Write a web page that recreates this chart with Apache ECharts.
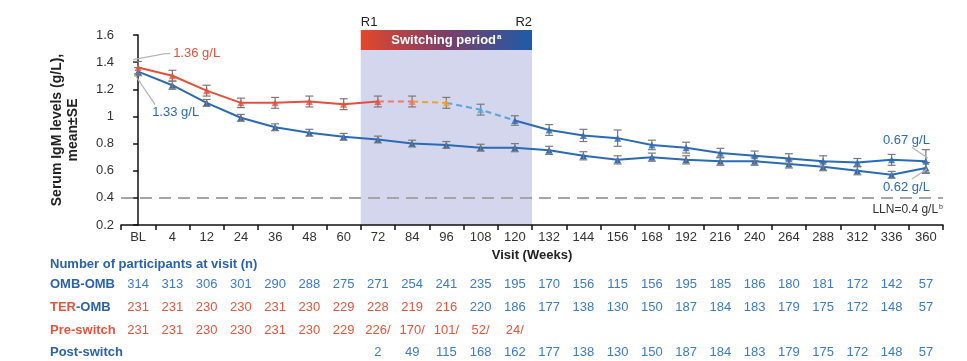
<!DOCTYPE html>
<html><head><meta charset="utf-8">
<script src="https://cdn.jsdelivr.net/npm/echarts@6/dist/echarts.min.js"></script>
<style>html,body{margin:0;padding:0;background:#fff}#c{width:967px;height:361px}</style>
</head><body><div id="c"></div>
<script>
const weeks = ['BL','4','12','24','36','48','60','72','84','96','108','120','132','144','156','168','192','216','240','264','288','312','336','360'];
const ombMean = [1.33,1.23,1.10,0.99,0.92,0.88,0.85,0.83,0.80,0.79,0.77,0.77,0.75,0.71,0.68,0.70,0.68,0.67,0.67,0.65,0.63,0.60,0.57,0.62];
const ombSE   = [0.03,0.03,0.025,0.025,0.025,0.025,0.025,0.025,0.025,0.025,0.025,0.03,0.03,0.03,0.03,0.03,0.03,0.03,0.03,0.03,0.03,0.03,0.025,0.04];
const terMean = [1.36,1.30,1.19,1.10,1.10,1.11,1.09,1.11,1.11,1.10,1.05,0.97,0.90,0.86,0.84,0.79,0.77,0.73,0.71,0.69,0.67,0.66,0.68,0.67];
const terSE   = [0.045,0.04,0.04,0.035,0.04,0.04,0.04,0.04,0.04,0.04,0.04,0.035,0.04,0.045,0.06,0.035,0.04,0.035,0.035,0.035,0.04,0.03,0.04,0.085];
const yTicks = {min:0.2, max:1.6, interval:0.2};
const lln = 0.4;
const switchStart = 6.5, switchEnd = 11.5; // category boundaries (between 60/72 and 120/132)
const nOmbOmb = ['314','313','306','301','290','288','275','271','254','241','235','195','170','156','115','156','195','185','186','180','181','172','142','57'];
const nTerOmb = ['231','231','230','230','231','230','229','228','219','216','220','186','177','138','130','150','187','184','183','179','175','172','148','57'];
const nPre    = ['231','231','230','230','231','230','229','226/','170/','101/','52/','24/','','','','','','','','','','','',''];
const nPost   = ['','','','','','','','2','49','115','168','162','177','138','130','150','187','184','183','179','175','172','148','57'];

const RED = '#e5503a', BLUE = '#2b6ab7', LBLUE = '#5aa5e0', ORANGE = '#f5a020', SALMON = '#ef7a66';
const NRED = '#e5553d', NBLUE = '#3c7bc7', LBL = '#2b62ad';
const FONT = 'Liberation Sans, Arial, sans-serif';

const chart = echarts.init(document.getElementById('c'));

function errSeries(mean, se) {
  return {
    type:'custom', xAxisIndex:0, yAxisIndex:0, z:4,
    data: mean.map((m,i)=>[i, m-se[i], m+se[i]]),
    renderItem: function(params, api){
      const lo = api.coord([api.value(0), api.value(1)]);
      const hi = api.coord([api.value(0), api.value(2)]);
      const w = 4;
      const st = {stroke:'#7a7a7a', lineWidth:1.2, fill:null};
      return {type:'group', children:[
        {type:'line', shape:{x1:lo[0],y1:lo[1],x2:hi[0],y2:hi[1]}, style:st},
        {type:'line', shape:{x1:lo[0]-w,y1:lo[1],x2:lo[0]+w,y2:lo[1]}, style:st},
        {type:'line', shape:{x1:hi[0]-w,y1:hi[1],x2:hi[0]+w,y2:hi[1]}, style:st}
      ]};
    }
  };
}
function seg(from, to, color, dashed) {
  return {
    type:'line', xAxisIndex:0, yAxisIndex:0, z:3, symbol:'none', silent:true,
    data: terMean.map((v,i)=> (i>=from && i<=to) ? v : '-'),
    lineStyle:{color:color, width:2, type: dashed ? [6,4] : 'solid'}
  };
}
const terColors = terMean.map((v,i)=> i<=7 ? RED : i===8 ? SALMON : i===9 ? ORANGE : i===10 ? LBLUE : BLUE);

const tableAxis = (arr, off, colorFn) => ({
  type:'category', gridIndex:0, position:'bottom', offset:off, data:weeks,
  axisLine:{show:false}, axisTick:{show:false}, splitLine:{show:false},
  axisLabel:{interval:0, margin:0, fontFamily:FONT, fontSize:13,
    formatter:(v,i)=> arr[i] ? '{' + colorFn(i) + '|' + arr[i] + '}' : '',
    rich:{r:{color:NRED, fontSize:13, fontFamily:FONT}, b:{color:NBLUE, fontSize:13, fontFamily:FONT}}}
});

const option = {
  animation:false,
  grid:{left:121, right:24, top:35, bottom:136, containLabel:false},
  xAxis:[
    {type:'category', data:weeks, boundaryGap:true,
     name:'Visit (Weeks)', nameLocation:'middle', nameGap:23,
     nameTextStyle:{fontFamily:FONT, fontSize:13, fontWeight:'bold', color:'#222'},
     axisLine:{lineStyle:{color:'#111', width:1.5}},
     axisTick:{show:true, length:5, lineStyle:{color:'#111', width:1.5}},
     axisLabel:{interval:0, margin:6, fontFamily:FONT, fontSize:13, color:'#333'}},
    {type:'value', min:-0.5, max:23.5, show:false},
    tableAxis(nOmbOmb, 53, ()=> 'b'),
    tableAxis(nTerOmb, 76, (i)=> i<=9 ? 'r' : 'b'),
    tableAxis(nPre, 99, ()=> 'r'),
    tableAxis(nPost, 121, ()=> 'b')
  ],
  yAxis:[{type:'value', min:yTicks.min, max:yTicks.max, interval:yTicks.interval,
    name:'Serum IgM levels (g/L),\nmean±SE', nameLocation:'middle', nameRotate:90, nameGap:40,
    nameTextStyle:{fontFamily:FONT, fontSize:14, fontWeight:'bold', color:'#222', lineHeight:16},
    axisLine:{show:true, lineStyle:{color:'#111', width:1.5}},
    axisTick:{show:true, length:5, lineStyle:{color:'#111', width:1.5}},
    splitLine:{show:false},
    axisLabel:{fontFamily:FONT, fontSize:13, color:'#333', margin:7}}],
  series:[
    {type:'custom', xAxisIndex:1, yAxisIndex:0, z:0, silent:true, clip:false,
     data:[[switchStart, switchEnd]],
     renderItem:function(params, api){
       const a = api.coord([api.value(0), yTicks.min]);
       const b = api.coord([api.value(1), yTicks.max]);
       const x1 = a[0], x2 = b[0], yb = a[1], yt = b[1];
       return {type:'group', children:[
         {type:'rect', shape:{x:x1, y:yt+15, width:x2-x1, height:yb-yt-15}, style:{fill:'#d3d6ec'}},
         {type:'rect', shape:{x:x1, y:yt-5, width:x2-x1, height:20},
          style:{fill:{type:'linear', x:0, y:0, x2:1, y2:0, colorStops:[
            {offset:0, color:'#e4472a'},{offset:0.5, color:'#7b3f6a'},{offset:1, color:'#1e5ba8'}]}}},
         {type:'text', x:(x1+x2)/2, y:yt+5, style:{text:'{m|Switching period}{s|a}', align:'center', verticalAlign:'middle',
           rich:{m:{fontFamily:FONT, fontSize:13, fontWeight:'bold', fill:'#fff', color:'#fff'},
                 s:{fontFamily:FONT, fontSize:8, fontWeight:'bold', fill:'#fff', color:'#fff', verticalAlign:'top', padding:[0,0,6,1]}}}},
         {type:'text', x:x1, y:yt-13, style:{text:'R1', fill:'#222', font:'13px '+FONT, align:'left', verticalAlign:'middle'}},
         {type:'text', x:x2, y:yt-13, style:{text:'R2', fill:'#222', font:'13px '+FONT, align:'right', verticalAlign:'middle'}}
       ]};
     }},
    {type:'line', xAxisIndex:0, yAxisIndex:0, data:[], z:1, silent:true,
     markLine:{silent:true, symbol:'none', label:{show:false},
       lineStyle:{color:'#a5a5a5', width:2, type:[12,7]}, data:[{yAxis:lln}]}},
    errSeries(ombMean, ombSE),
    errSeries(terMean, terSE),
    {type:'line', xAxisIndex:0, yAxisIndex:0, z:3, data:ombMean, symbol:'triangle', symbolSize:7,
     lineStyle:{color:BLUE, width:2}, itemStyle:{color:BLUE}},
    seg(0,7,RED,false),
    seg(7,8,SALMON,true),
    seg(8,9,ORANGE,true),
    seg(9,11,LBLUE,true),
    seg(11,23,BLUE,false),
    {type:'scatter', xAxisIndex:0, yAxisIndex:0, z:5, symbol:'triangle', symbolSize:7,
     data: terMean.map((v,i)=>({value:[i,v], itemStyle:{color:terColors[i]}}))}
  ]
};
chart.setOption(option);

// annotations and table labels, positioned from the axes
const px = (i,v)=> chart.convertToPixel({xAxisIndex:0, yAxisIndex:0}, [i,v]);
const pT0 = px(0, terMean[0]), pO0 = px(0, ombMean[0]);
const n = weeks.length-1;
const pTn = px(n, terMean[n]), pOn = px(n, ombMean[n]);
const pLLN = chart.convertToPixel({xAxisIndex:1, yAxisIndex:0}, [23.5, lln]);
const leader = {stroke:'#b5b5b5', lineWidth:1.2, fill:null};
const tf = (c, w)=> ({fill:c, font:(w||'normal')+' 13px '+FONT});
const graphic = [
  {type:'polyline', shape:{points:[[pT0[0]-5,pT0[1]-8],[pT0[0]+27,pT0[1]-14],[pT0[0]+32,pT0[1]-14]]}, style:leader, z:10},
  {type:'text', x:pT0[0]+35, y:pT0[1]-14, style:Object.assign(tf(RED),{text:'1.36 g/L', verticalAlign:'middle'}), z:10},
  {type:'line', shape:{x1:pO0[0]-4, y1:pO0[1]+2, x2:pO0[0]+17, y2:pO0[1]+33}, style:leader, z:10},
  {type:'text', x:pO0[0]+14, y:pO0[1]+41, style:Object.assign(tf(BLUE),{text:'1.33 g/L', verticalAlign:'middle'}), z:10},
  {type:'line', shape:{x1:pTn[0]-14, y1:pTn[1]-14, x2:pTn[0]+2, y2:pTn[1]-3}, style:leader, z:10},
  {type:'text', x:pTn[0]+4, y:pTn[1]-21, style:Object.assign(tf(BLUE),{text:'0.67 g/L', align:'right', verticalAlign:'middle'}), z:10},
  {type:'line', shape:{x1:pOn[0]-14, y1:pOn[1]+11, x2:pOn[0]+1, y2:pOn[1]+1}, style:leader, z:10},
  {type:'text', x:pOn[0]+4, y:pOn[1]+19, style:Object.assign(tf(BLUE),{text:'0.62 g/L', align:'right', verticalAlign:'middle'}), z:10},
  {type:'text', x:pLLN[0], y:pLLN[1]+12, z:10, style:{text:'{m|LLN=0.4 g/L}{s|b}', align:'right', verticalAlign:'middle',
     rich:{m:{fontFamily:FONT, fontSize:12, fill:'#333', color:'#333'}, s:{fontFamily:FONT, fontSize:7, fill:'#333', color:'#333', verticalAlign:'top', padding:[0,0,6,1]}}}},
  {type:'text', left:50, top:258, style:Object.assign(tf(LBL,'bold'),{text:'Number of participants at visit (n)'})},
  {type:'text', left:50, top:278, style:Object.assign(tf(LBL,'bold'),{text:'OMB-OMB'})},
  {type:'text', left:50, top:301, style:{text:'{r|TER}{b|-OMB}', rich:{r:{fill:NRED,color:NRED,fontWeight:'bold',fontSize:13,fontFamily:FONT}, b:{fill:LBL,color:LBL,fontWeight:'bold',fontSize:13,fontFamily:FONT}}}},
  {type:'text', left:50, top:324, style:Object.assign(tf(NRED,'bold'),{text:'Pre-switch'})},
  {type:'text', left:50, top:346, style:Object.assign(tf(LBL,'bold'),{text:'Post-switch'})}
];
chart.setOption({graphic:graphic});
</script></body></html>
